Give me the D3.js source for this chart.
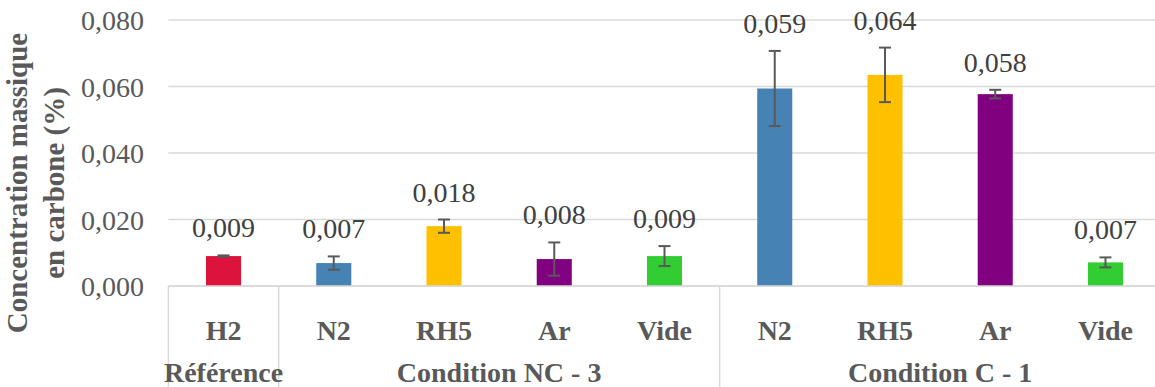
<!DOCTYPE html>
<html>
<head>
<meta charset="utf-8">
<script src="https://cdn.jsdelivr.net/npm/d3@7"></script>
<style>
html,body{margin:0;padding:0;background:#fff;}
svg{display:block;}
</style>
</head>
<body>
<svg id="chart" width="1155" height="387"></svg>
<script>
// ---- data ----
const categories = ["H2", "N2", "RH5", "Ar", "Vide", "N2", "RH5", "Ar", "Vide"];
const groupOf    = [0, 1, 1, 1, 1, 2, 2, 2, 2];
const groups     = ["Référence", "Condition NC - 3", "Condition C - 1"];
const values     = [0.009, 0.0069, 0.018, 0.0081, 0.009, 0.0594, 0.0635, 0.0577, 0.0071];
const errors     = [0.0002, 0.002, 0.002, 0.005, 0.003, 0.0113, 0.0082, 0.0013, 0.0015];
const barColors  = ["#DC143C", "#4682B4", "#FFC000", "#800080", "#32CD32", "#4682B4", "#FFC000", "#800080", "#32CD32"];
const yTicks     = [0, 0.02, 0.04, 0.06, 0.08];

// ---- layout ----
const W = 1155, H = 387;
const pLeft = 168.4, pRight = 1160.6, pTop = 20, pBottom = 286;
const svg = d3.select("#chart");
const fontFam = "'Liberation Serif','Times New Roman',Times,serif";
const idx = d3.range(categories.length);

const x = d3.scaleBand().domain(idx).range([pLeft, pRight]).paddingInner(0.682).paddingOuter(0.341);
const y = d3.scaleLinear().domain([0, 0.08]).range([pBottom, pTop]);
const step = x.step();
const fmt = v => d3.format(".3f")(v).replace(".", ",");

// gridlines
svg.append("g").selectAll("line").data(yTicks).join("line")
  .attr("x1", pLeft).attr("x2", pRight)
  .attr("y1", d => y(d)).attr("y2", d => y(d))
  .attr("stroke", "#d9d9d9").attr("stroke-width", 1.5);

// y-axis tick labels
const yAxis = d3.axisLeft(y).tickValues(yTicks).tickFormat(fmt).tickSize(0).tickPadding(0);
const ya = svg.append("g").attr("transform", `translate(144,0)`).call(yAxis);
ya.select(".domain").remove();
ya.selectAll("text").attr("font-family", fontFam).attr("font-size", 28).attr("fill", "#595959").attr("dy", "0.34em");

// bars
svg.append("g").selectAll("rect").data(idx).join("rect")
  .attr("x", i => x(i)).attr("width", x.bandwidth())
  .attr("y", i => y(values[i])).attr("height", i => y(0) - y(values[i]))
  .attr("fill", i => barColors[i]);

// error bars
const eg = svg.append("g").attr("stroke", "#595959").attr("stroke-width", 2);
idx.forEach(i => {
  const cx = x(i) + x.bandwidth() / 2;
  const y1 = y(values[i] + errors[i]), y2 = y(values[i] - errors[i]);
  eg.append("line").attr("x1", cx).attr("x2", cx).attr("y1", y1).attr("y2", y2);
  eg.append("line").attr("x1", cx - 6).attr("x2", cx + 6).attr("y1", y1).attr("y2", y1);
  eg.append("line").attr("x1", cx - 6).attr("x2", cx + 6).attr("y1", y2).attr("y2", y2);
});

// value labels
svg.append("g").selectAll("text").data(idx).join("text")
  .attr("x", i => x(i) + x.bandwidth() / 2)
  .attr("y", i => y(values[i] + errors[i]) - 18)
  .attr("text-anchor", "middle")
  .attr("font-family", fontFam).attr("font-size", 28).attr("fill", "#404040")
  .text(i => fmt(values[i]));

// x axis baseline
svg.append("line").attr("x1", pLeft).attr("x2", pRight).attr("y1", pBottom).attr("y2", pBottom)
  .attr("stroke", "#d9d9d9").attr("stroke-width", 1.5);

// category separators
const sepIdx = [0, 1, 5, 9];
svg.append("g").selectAll("line").data(sepIdx).join("line")
  .attr("x1", i => pLeft + i * step).attr("x2", i => pLeft + i * step)
  .attr("y1", pBottom).attr("y2", H)
  .attr("stroke", "#d9d9d9").attr("stroke-width", 1.5);

// category labels
svg.append("g").selectAll("text").data(idx).join("text")
  .attr("x", i => x(i) + x.bandwidth() / 2).attr("y", 340)
  .attr("text-anchor", "middle")
  .attr("font-family", fontFam).attr("font-size", 28).attr("font-weight", "bold").attr("fill", "#595959")
  .text(i => categories[i]);

// group labels
svg.append("g").selectAll("text").data(groups).join("text")
  .attr("x", (g, gi) => {
    const members = idx.filter(i => groupOf[i] === gi);
    const a = x(members[0]), b = x(members[members.length - 1]) + x.bandwidth();
    return (a + b) / 2;
  })
  .attr("y", 382)
  .attr("text-anchor", "middle")
  .attr("font-family", fontFam).attr("font-size", 28).attr("font-weight", "bold").attr("fill", "#595959")
  .text(g => g);

// y-axis title
const t = svg.append("text")
  .attr("transform", "translate(0,183) rotate(-90)")
  .attr("text-anchor", "middle")
  .attr("font-family", fontFam).attr("font-size", 29).attr("font-weight", "bold").attr("fill", "#595959");
t.append("tspan").attr("x", 0).attr("y", 27).text("Concentration massique");
t.append("tspan").attr("x", 0).attr("y", 64).text("en carbone (%)");
</script>
</body>
</html>
